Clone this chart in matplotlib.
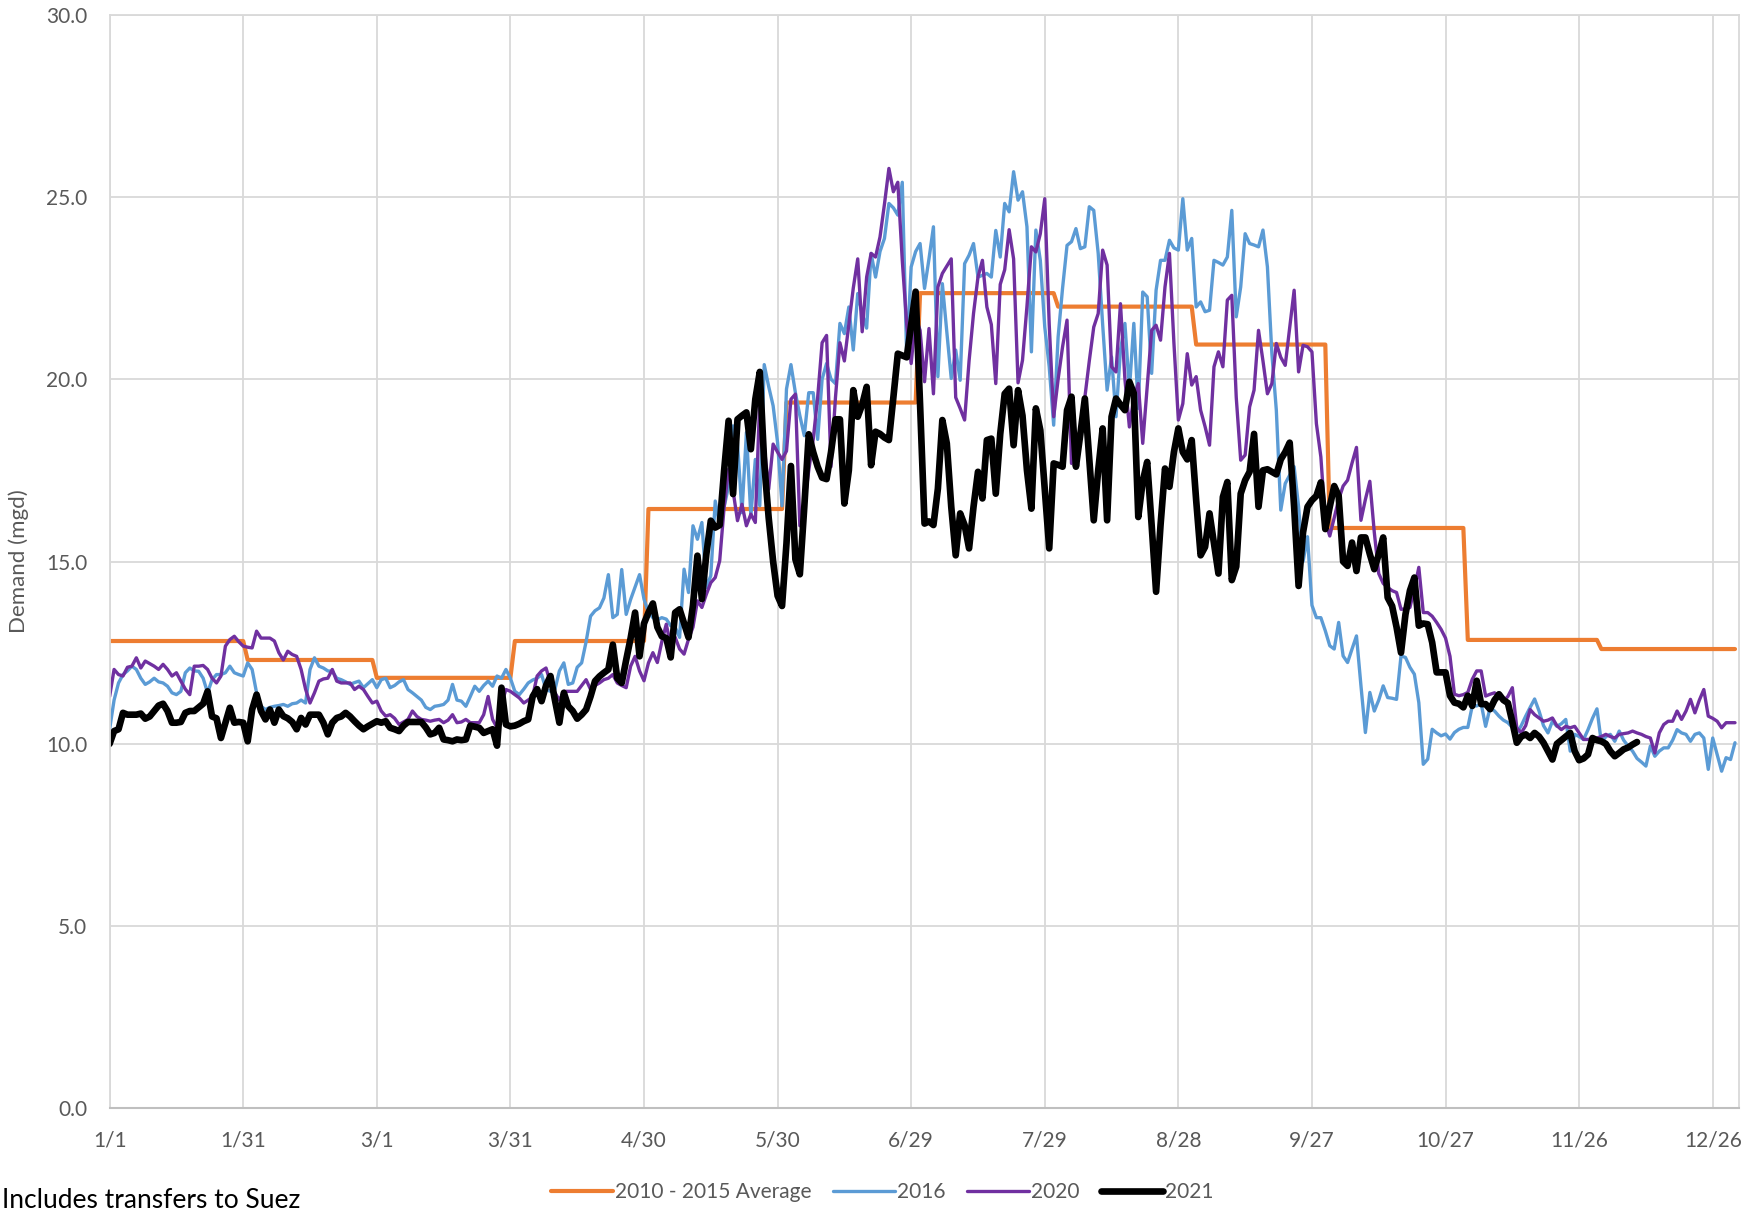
import numpy as np
import matplotlib
matplotlib.use("Agg")
import matplotlib.pyplot as plt

plt.rcParams['font.family'] = ['Lato', 'DejaVu Sans']

# x-axis category labels (every 30th day of a leap year)
tick_labels = ["1/1", "1/31", "3/1", "3/31", "4/30", "5/30", "6/29",
               "7/29", "8/28", "9/27", "10/27", "11/26", "12/26"]

# 2010 - 2015 average, one value per month
month_avg = [12.82, 12.30, 11.81, 12.82, 16.44, 19.36,
             22.36, 21.99, 20.95, 15.92, 12.85, 12.60]
month_days = [31, 29, 31, 30, 31, 30, 31, 31, 30, 31, 30, 31]

demand_2016 = [
    10.4, 11.2, 11.67, 11.9, 12.0, 12.13, 12.04, 11.8, 11.63, 11.7,
    11.8, 11.7, 11.67, 11.58, 11.4, 11.35, 11.44, 11.95, 12.08, 12.0,
    11.99, 11.8, 11.4, 11.76, 11.9, 11.9, 11.95, 12.13, 11.95, 11.9,
    11.86, 12.22, 12.04, 11.4, 11.03, 10.94, 11.0, 11.03, 11.05, 11.08,
    11.03, 11.1, 11.12, 11.2, 11.12, 12.04, 12.36, 12.13, 12.08, 12.0,
    11.99, 11.8, 11.76, 11.7, 11.63, 11.68, 11.72, 11.54, 11.65, 11.76,
    11.54, 11.76, 11.8, 11.54, 11.6, 11.7, 11.76, 11.49, 11.4, 11.3,
    11.2, 11.0, 10.94, 11.03, 11.05, 11.08, 11.2, 11.63, 11.2, 11.17,
    11.03, 11.3, 11.58, 11.44, 11.6, 11.72, 11.58, 11.86, 11.8, 12.04,
    11.8, 11.44, 11.35, 11.5, 11.67, 11.75, 11.8, 11.9, 11.49, 11.44,
    11.49, 12.0, 12.22, 11.63, 11.67, 12.1, 12.22, 12.8, 13.5, 13.65,
    13.73, 14.0, 14.64, 13.46, 13.55, 14.78, 13.55, 13.96, 14.3, 14.64,
    13.97, 13.6, 13.46, 13.4, 13.46, 13.42, 13.24, 13.2, 12.92, 14.79,
    14.15, 15.98, 15.61, 16.07, 14.29, 14.61, 16.66, 15.98, 16.5, 17.07,
    18.72, 18.26, 16.34, 18.54, 16.25, 17.8, 16.53, 20.4, 19.8, 19.27,
    18.26, 16.53, 19.73, 20.4, 19.63, 19.0, 18.45, 19.63, 19.63, 18.35,
    20.0, 20.43, 20.0, 19.88, 21.53, 21.25, 21.98, 20.8, 22.35, 21.8,
    21.4, 23.45, 22.8, 23.5, 23.86, 24.82, 24.7, 24.5, 25.4, 20.6,
    23.08, 23.5, 23.72, 22.49, 23.3, 24.18, 20.07, 22.62, 21.3, 20.02,
    20.8, 19.97, 23.17, 23.4, 23.72, 22.8, 22.85, 22.9, 22.8, 24.08,
    23.35, 24.82, 24.59, 25.69, 24.91, 25.14, 24.18, 20.75, 24.09, 23.26,
    21.43, 20.34, 18.74, 21.16, 22.5, 23.67, 23.77, 24.13, 23.58, 23.63,
    24.73, 24.63, 23.45, 21.5, 19.7, 20.61, 18.97, 20.8, 21.53, 19.7,
    21.53, 19.2, 22.39, 22.26, 20.16, 22.44, 23.26, 23.26, 23.81, 23.6,
    23.54, 24.95, 23.54, 23.86, 21.98, 22.12, 21.85, 21.89, 23.26, 23.2,
    23.13, 23.35, 24.63, 21.71, 22.53, 23.99, 23.72, 23.68, 23.63, 24.09,
    23.08, 20.7, 19.15, 16.41, 17.14, 17.37, 17.6, 16.5, 15.0, 15.68,
    13.8, 13.46, 13.46, 13.1, 12.69, 12.6, 13.33, 12.41, 12.23, 12.6,
    12.96, 11.6, 10.31, 11.41, 10.9, 11.2, 11.59, 11.27, 11.25, 11.22,
    12.41, 12.37, 12.1, 11.91, 11.13, 9.44, 9.58, 10.4, 10.3, 10.22,
    10.27, 10.13, 10.31, 10.4, 10.45, 10.45, 11.04, 11.04, 11.1, 10.48,
    10.99, 10.9, 10.76, 10.65, 10.58, 10.45, 10.3, 10.5, 10.76, 11.0,
    11.23, 10.9, 10.5, 10.3, 10.62, 10.48, 10.55, 10.67, 9.8, 10.26,
    10.2, 10.12, 10.39, 10.7, 10.96, 10.03, 10.2, 10.26, 10.07, 10.35,
    10.1, 9.94, 9.8, 9.6, 9.5, 9.39, 9.94, 9.66, 9.8, 9.89,
    9.89, 10.1, 10.39, 10.3, 10.26, 10.07, 10.26, 10.3, 10.16, 9.3,
    10.16, 9.7, 9.25, 9.62, 9.57, 10.03,
]

demand_2020 = [
    11.3, 12.04, 11.9, 11.86, 12.1, 12.13, 12.36, 12.08, 12.27, 12.2,
    12.13, 12.04, 12.18, 12.04, 11.86, 11.95, 11.72, 11.5, 11.35, 12.13,
    12.13, 12.15, 12.04, 11.8, 11.67, 11.86, 12.68, 12.86, 12.95, 12.8,
    12.68, 12.65, 12.63, 13.09, 12.9, 12.9, 12.9, 12.82, 12.5, 12.3,
    12.54, 12.45, 12.4, 12.04, 11.5, 11.12, 11.4, 11.72, 11.78, 11.8,
    12.04, 11.72, 11.67, 11.67, 11.67, 11.49, 11.58, 11.49, 11.3, 11.12,
    11.17, 10.9, 10.76, 10.8, 10.7, 10.53, 10.6, 10.67, 10.9, 10.75,
    10.67, 10.65, 10.62, 10.65, 10.67, 10.58, 10.65, 10.8, 10.58, 10.6,
    10.67, 10.58, 10.58, 10.58, 10.8, 11.3, 10.67, 10.44, 11.1, 11.49,
    11.44, 11.35, 11.26, 11.12, 11.2, 11.3, 11.86, 12.0, 12.08, 11.67,
    11.4, 11.2, 11.44, 11.44, 11.44, 11.44, 11.6, 11.76, 11.49, 11.6,
    11.67, 11.76, 11.8, 11.9, 11.67, 11.6, 11.54, 12.13, 12.4, 12.0,
    11.73, 12.22, 12.5, 12.23, 12.8, 13.28, 12.69, 12.92, 12.6, 12.46,
    12.87, 13.2, 13.92, 13.74, 14.1, 14.42, 14.56, 15.02, 16.5, 17.53,
    16.94, 16.12, 16.57, 15.98, 16.3, 16.07, 19.45, 18.17, 16.98, 18.22,
    18.0, 17.8, 18.03, 19.45, 19.59, 15.98, 16.53, 17.5, 18.35, 19.5,
    21.0, 21.2, 17.6, 19.5, 21.0, 20.5, 21.5, 22.5, 23.3, 21.3,
    22.8, 23.45, 23.35, 23.9, 24.8, 25.78, 25.14, 25.4, 23.26, 21.5,
    20.43, 21.7, 21.34, 19.93, 21.39, 19.6, 22.53, 22.9, 23.1, 23.3,
    19.5, 19.2, 18.88, 20.5, 21.8, 22.8, 23.26, 21.98, 21.5, 19.88,
    22.6, 23.0, 24.1, 23.3, 19.9, 20.52, 22.0, 23.63, 23.49, 23.99,
    24.95, 21.5, 18.97, 20.0, 20.89, 21.62, 17.69, 18.0, 18.33, 19.5,
    20.5, 21.43, 21.8, 23.54, 23.13, 20.34, 20.2, 22.07, 20.0, 18.69,
    19.5, 19.88, 18.24, 19.8, 21.34, 21.48, 21.07, 22.53, 23.45, 21.0,
    18.88, 19.33, 20.7, 19.84, 20.07, 19.15, 18.7, 18.19, 20.34, 20.75,
    20.34, 22.17, 22.3, 19.5, 17.78, 17.92, 19.24, 19.7, 21.34, 20.5,
    19.6, 19.88, 20.98, 20.6, 20.38, 21.4, 22.44, 20.2, 20.93, 20.89,
    20.75, 18.78, 17.87, 16.1, 15.7, 16.2, 16.7, 17.07, 17.23, 17.7,
    18.13, 16.13, 16.7, 17.2, 15.8, 14.67, 14.4, 14.29, 14.2, 14.15,
    13.69, 13.7, 13.74, 14.24, 14.84, 13.6, 13.6, 13.5, 13.33, 13.14,
    12.9, 12.4, 11.36, 11.32, 11.35, 11.41, 11.77, 12.0, 12.0, 11.31,
    11.36, 11.4, 11.3, 11.17, 11.3, 11.54, 10.44, 10.3, 10.5, 10.94,
    10.8, 10.71, 10.62, 10.65, 10.71, 10.5, 10.39, 10.48, 10.44, 10.48,
    10.3, 10.12, 10.12, 10.14, 10.16, 10.2, 10.26, 10.2, 10.16, 10.26,
    10.28, 10.3, 10.35, 10.3, 10.26, 10.2, 10.16, 9.75, 10.3, 10.53,
    10.62, 10.62, 10.9, 10.67, 10.9, 11.22, 10.85, 11.2, 11.49, 10.76,
    10.7, 10.62, 10.44, 10.58, 10.58, 10.58,
]

demand_2021 = [
    10.0, 10.35, 10.4, 10.85, 10.8, 10.8, 10.8, 10.83, 10.69, 10.75,
    10.9, 11.05, 11.1, 10.9, 10.58, 10.58, 10.6, 10.85, 10.9, 10.9,
    11.0, 11.1, 11.44, 10.75, 10.7, 10.16, 10.58, 10.99, 10.58, 10.6,
    10.58, 10.07, 10.94, 11.35, 10.9, 10.67, 10.94, 10.58, 10.94, 10.76,
    10.7, 10.6, 10.4, 10.71, 10.53, 10.8, 10.8, 10.8, 10.58, 10.26,
    10.58, 10.71, 10.75, 10.85, 10.75, 10.62, 10.5, 10.4, 10.48, 10.55,
    10.62, 10.58, 10.62, 10.44, 10.4, 10.35, 10.5, 10.6, 10.6, 10.6,
    10.6, 10.45, 10.26, 10.3, 10.44, 10.12, 10.1, 10.07, 10.12, 10.1,
    10.12, 10.5, 10.47, 10.44, 10.3, 10.35, 10.4, 9.95, 11.54, 10.53,
    10.48, 10.5, 10.55, 10.62, 10.67, 11.3, 11.5, 11.17, 11.6, 11.86,
    11.2, 10.58, 11.4, 11.03, 10.9, 10.69, 10.8, 10.94, 11.3, 11.72,
    11.85, 11.95, 12.04, 12.72, 11.8, 11.67, 12.3, 12.9, 13.6, 12.4,
    13.3, 13.6, 13.85, 13.2, 12.95, 12.9, 12.37, 13.6, 13.69, 13.3,
    12.92, 13.8, 15.16, 13.97, 15.2, 16.12, 15.93, 16.0, 17.5, 18.86,
    16.85, 18.9, 19.0, 19.09, 18.08, 19.45, 20.2, 17.7, 16.2, 15.0,
    14.06, 13.78, 15.5, 17.62, 15.06, 14.65, 16.5, 18.49, 18.0, 17.6,
    17.3, 17.26, 18.0, 18.9, 18.9, 16.59, 17.5, 19.7, 18.97, 19.3,
    19.79, 17.64, 18.56, 18.5, 18.4, 18.33, 19.5, 20.7, 20.65, 20.6,
    21.5, 22.4, 19.3, 16.04, 16.1, 16.0, 17.0, 18.88, 18.24, 16.5,
    15.17, 16.32, 16.0, 15.36, 16.5, 17.46, 16.73, 18.33, 18.37, 16.86,
    18.5, 19.6, 19.74, 18.19, 19.7, 19.0, 17.5, 16.45, 19.2, 18.6,
    17.0, 15.36, 17.69, 17.65, 17.6, 19.15, 19.52, 17.6, 18.5, 19.47,
    17.8, 16.13, 17.5, 18.65, 16.13, 18.97, 19.47, 19.3, 19.15, 19.93,
    19.61, 16.22, 17.2, 17.73, 16.0, 14.17, 16.0, 17.55, 17.05, 18.0,
    18.65, 18.0, 17.8, 18.33, 16.68, 15.17, 15.4, 16.32, 15.5, 14.67,
    16.77, 17.18, 14.49, 14.86, 16.86, 17.23, 17.46, 18.5, 16.5, 17.5,
    17.53, 17.46, 17.39, 17.8, 18.0, 18.26, 16.5, 14.33, 15.8, 16.5,
    16.68, 16.8, 17.17, 15.89, 16.5, 17.07, 16.8, 15.0, 14.88, 15.52,
    14.74, 15.66, 15.66, 15.2, 14.79, 15.2, 15.66, 14.01, 13.78, 13.2,
    12.5, 13.55, 14.2, 14.56, 13.24, 13.3, 13.28, 12.78, 11.96, 11.96,
    11.96, 11.32, 11.13, 11.1, 11.0, 11.32, 11.04, 11.73, 11.09, 11.09,
    10.95, 11.2, 11.36, 11.2, 11.12, 10.6, 10.03, 10.2, 10.26, 10.16,
    10.3, 10.2, 10.03, 9.8, 9.57, 10.0, 10.1, 10.2, 10.3, 9.8,
    9.55, 9.6, 9.71, 10.16, 10.1, 10.07, 10.0, 9.8, 9.66, 9.75,
    9.85, 9.9, 9.98, 10.05,
]

avg_daily = np.repeat(month_avg, month_days)

fig = plt.figure(figsize=(17.54, 12.12), dpi=100)
ax = fig.add_axes([0.0625, 0.0854, 0.9292, 0.9026])

grid_c = '#d9d9d9'
ax.plot(np.arange(len(avg_daily)), avg_daily, color='#ED7D31', lw=3.0,
        label='2010 - 2015 Average', solid_capstyle='round')
ax.plot(np.arange(len(demand_2016)), demand_2016, color='#5B9BD5', lw=2.4,
        label='2016', solid_capstyle='round')
ax.plot(np.arange(len(demand_2020)), demand_2020, color='#7030A0', lw=2.4,
        label='2020', solid_capstyle='round')
ax.plot(np.arange(len(demand_2021)), demand_2021, color='black', lw=4.8,
        label='2021', solid_capstyle='round')

ax.set_xlim(0, 366)
ax.set_ylim(0, 30)
ax.set_xticks(np.arange(0, 361, 30))
ax.set_xticklabels(tick_labels)
ax.set_yticks(np.arange(0, 31, 5))
ax.set_yticklabels(['%.1f' % v for v in np.arange(0, 31, 5)])
ax.tick_params(length=0, labelsize=15, labelcolor='#595959')
ax.tick_params(axis='x', pad=16)
ax.tick_params(axis='y', pad=16)
ax.grid(True, color=grid_c, lw=1.3)
ax.set_axisbelow(True)
for side in ['top', 'left', 'right']:
    ax.spines[side].set_color(grid_c)
    ax.spines[side].set_linewidth(1.3)
ax.spines['bottom'].set_color('#bfbfbf')
ax.spines['bottom'].set_linewidth(1.5)

ax.set_ylabel('Demand (mgd)', fontsize=16, color='#595959', labelpad=12)

fig.legend(loc='center', bbox_to_anchor=(0.503, 1 - 1192 / 1212), ncol=4,
           frameon=False, fontsize=15, labelcolor='#595959',
           handlelength=3.0, handletextpad=0.1, columnspacing=1.0)

# footnote sits right at the bottom-left corner
fig.text(0.001, 1 - 1208 / 1212, 'Includes transfers to Suez',
         fontsize=19, ha='left', va='baseline')

fig.savefig('out.png', dpi=100)
